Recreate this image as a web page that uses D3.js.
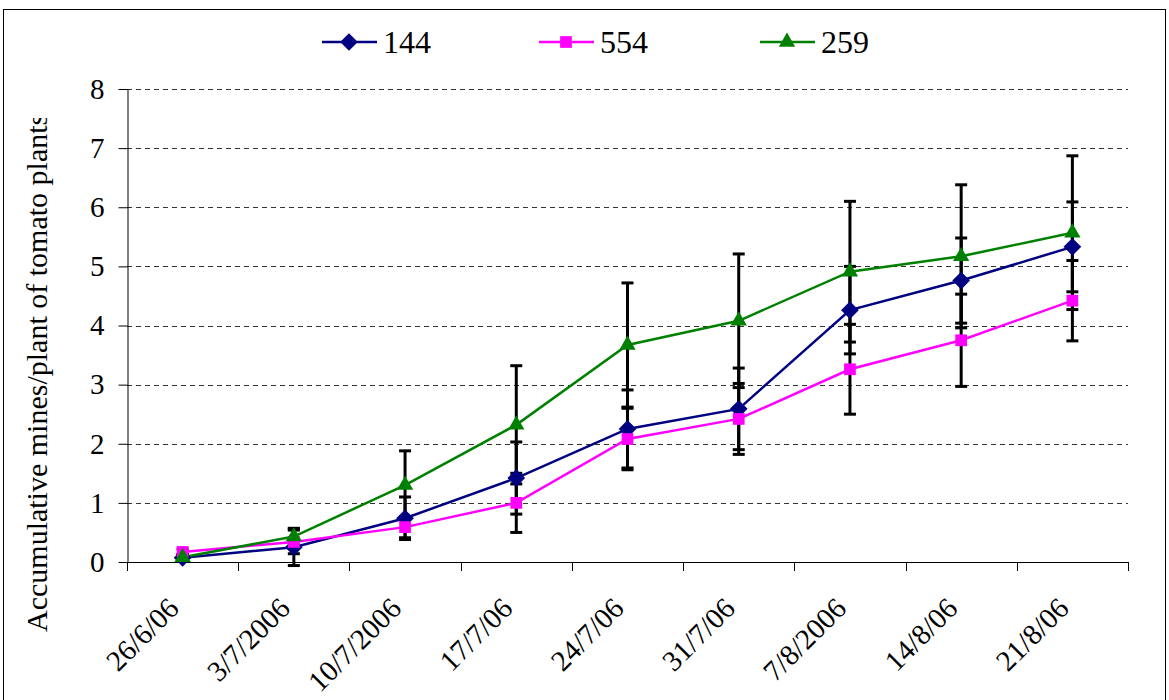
<!DOCTYPE html>
<html>
<head>
<meta charset="utf-8">
<script src="https://cdn.jsdelivr.net/npm/d3@7"></script>
<style>
  body { margin: 0; background: #fff; }
  svg text { font-family: "Liberation Serif", "Times New Roman", serif; }
</style>
</head>
<body>
<div id="chart"></div>
<script>
// sampling dates (category axis)
const dates = ["26/6/06", "3/7/2006", "10/7/2006", "17/7/06", "24/7/06", "31/7/06", "7/8/2006", "14/8/06", "21/8/06"];

// mean accumulative mines per plant
const mean144 = [0.07, 0.25, 0.74, 1.42, 2.25, 2.59, 4.26, 4.76, 5.33];
const mean554 = [0.17, 0.34, 0.59, 1.00, 2.08, 2.42, 3.26, 3.75, 4.42];
const mean259 = [0.08, 0.43, 1.30, 2.32, 3.67, 4.08, 4.91, 5.17, 5.57];

// error (+/-)
const err144 = [0.05, 0.31, 0.36, 0.61, 0.66, 0.69, 0.74, 0.72, 0.76];
const err554 = [0.05, 0.20, 0.18, 0.50, 0.52, 0.60, 0.76, 0.78, 0.68];
const err259 = [0.05, 0.14, 0.58, 1.00, 1.05, 1.13, 1.19, 1.21, 1.30];

const yTicks = [0, 1, 2, 3, 4, 5, 6, 7, 8];
const seriesNames = ["144", "554", "259"];

const FONT = '"Liberation Serif", "Times New Roman", serif';

class LineChart {
  constructor(_config) {
    this.config = {
      parentElement: _config.parentElement,
      containerWidth: 1169,
      containerHeight: 700,
      left: 127, right: 1128, top: 89, bottom: 562
    };
    this.series = [
      { name: seriesNames[0], values: mean144, errors: err144, color: "#000080", symbol: d3.symbolDiamond2, size: 200 },
      { name: seriesNames[1], values: mean554, errors: err554, color: "#ff00ff", symbol: d3.symbolSquare2, size: 175 },
      { name: seriesNames[2], values: mean259, errors: err259, color: "#008000", symbol: d3.symbolTriangle2, size: 190 }
    ];
    this.initVis();
  }

  initVis() {
    let vis = this;
    const c = vis.config;

    vis.svg = d3.select(c.parentElement).append("svg")
      .attr("width", c.containerWidth)
      .attr("height", c.containerHeight)
      .style("display", "block");

    // outer chart border
    vis.svg.append("rect")
      .attr("x", 3.5).attr("y", 9.5)
      .attr("width", 1162).attr("height", 720)
      .attr("fill", "none").attr("stroke", "#000").attr("stroke-width", 1);

    vis.x = d3.scaleBand().domain(dates).range([c.left, c.right]).padding(0);
    vis.y = d3.scaleLinear().domain([0, 8]).range([c.bottom, c.top]);

    vis.drawAxes();
    vis.drawSeries();
    vis.drawLegend();
  }

  drawAxes() {
    let vis = this;
    const c = vis.config;

    // dashed gridlines
    vis.svg.append("g")
      .selectAll("line")
      .data(yTicks.filter(d => d > 0))
      .join("line")
      .attr("x1", c.left).attr("x2", c.right)
      .attr("y1", d => Math.round(vis.y(d)) + 0.5)
      .attr("y2", d => Math.round(vis.y(d)) + 0.5)
      .attr("stroke", "#333")
      .attr("stroke-width", 1)
      .attr("stroke-dasharray", "5,4");

    const yAxis = vis.svg.append("g")
      .attr("transform", `translate(${c.left + 0.5},0)`)
      .call(d3.axisLeft(vis.y).tickValues(yTicks).tickSize(9).tickPadding(14).tickSizeOuter(0));
    yAxis.attr("font-family", null);
    yAxis.select(".domain").attr("stroke", "#000");
    yAxis.selectAll(".tick line").attr("stroke", "#000");
    yAxis.selectAll("text")
      .style("font-family", FONT)
      .attr("font-size", 29)
      .attr("fill", "#000");

    // category axis with ticks at boundaries
    const xAxisG = vis.svg.append("g");
    xAxisG.append("line")
      .attr("x1", c.left).attr("x2", c.right)
      .attr("y1", c.bottom + 0.5).attr("y2", c.bottom + 0.5)
      .attr("stroke", "#000");
    const bounds = dates.map(d => vis.x(d)).concat([c.right]);
    xAxisG.selectAll(".xtick")
      .data(bounds)
      .join("line")
      .attr("class", "xtick")
      .attr("x1", d => Math.round(d) + 0.5).attr("x2", d => Math.round(d) + 0.5)
      .attr("y1", c.bottom).attr("y2", c.bottom + 9)
      .attr("stroke", "#000");

    xAxisG.selectAll(".xlabel")
      .data(dates)
      .join("text")
      .attr("class", "xlabel")
      .attr("transform", d => `translate(${vis.x(d) + vis.x.bandwidth() / 2 - 2},${c.bottom + 48}) rotate(-45)`)
      .attr("text-anchor", "end")
      .style("font-family", FONT)
      .attr("font-size", 29)
      .text(d => d);

    // y axis title, clipped like the original
    vis.svg.append("clipPath").attr("id", "ytitle-clip")
      .append("rect").attr("x", 0).attr("y", 118).attr("width", 80).attr("height", 600);
    vis.svg.append("g").attr("clip-path", "url(#ytitle-clip)")
      .append("text")
      .attr("transform", "translate(47,632) rotate(-90)")
      .attr("text-anchor", "start")
      .style("font-family", FONT)
      .attr("font-size", 30)
      .text("Accumulative mines/plant of tomato plants");
  }

  drawSeries() {
    let vis = this;
    const cx = d => vis.x(d) + vis.x.bandwidth() / 2;

    // error bars first
    vis.series.forEach(s => {
      const g = vis.svg.append("g").attr("class", "errbars");
      dates.forEach((d, i) => {
        const x = cx(d);
        const yTop = vis.y(s.values[i] + s.errors[i]);
        const yBot = vis.y(s.values[i] - s.errors[i]);
        g.append("line").attr("x1", x).attr("x2", x).attr("y1", yTop).attr("y2", yBot)
          .attr("stroke", "#000").attr("stroke-width", 3);
        [yTop, yBot].forEach(yy => {
          g.append("line").attr("x1", x - 6).attr("x2", x + 6).attr("y1", yy).attr("y2", yy)
            .attr("stroke", "#000").attr("stroke-width", 3);
        });
      });
    });

    const line = d3.line().x((v, i) => cx(dates[i])).y(v => vis.y(v));

    vis.series.forEach(s => {
      vis.svg.append("path")
        .datum(s.values)
        .attr("d", line)
        .attr("fill", "none")
        .attr("stroke", s.color)
        .attr("stroke-width", 2.5);
    });

    vis.series.forEach(s => {
      vis.svg.append("g")
        .selectAll("path")
        .data(s.values)
        .join("path")
        .attr("transform", (v, i) => `translate(${cx(dates[i])},${vis.y(v)})`)
        .attr("d", d3.symbol().type(s.symbol).size(s.size))
        .attr("fill", s.color);
    });
  }

  drawLegend() {
    let vis = this;
    const xs = [349, 566, 787];
    const ly = 42;

    const items = vis.svg.append("g").selectAll("g")
      .data(vis.series)
      .join("g")
      .attr("transform", (d, i) => `translate(${xs[i]},${ly})`);

    items.append("line")
      .attr("x1", -27).attr("x2", 28)
      .attr("stroke", d => d.color).attr("stroke-width", 2.5);
    items.append("path")
      .attr("d", d => d3.symbol().type(d.symbol).size(d.size)())
      .attr("fill", d => d.color);
    items.append("text")
      .attr("x", 34).attr("y", 11)
      .style("font-family", FONT)
      .attr("font-size", 32)
      .text(d => d.name);
  }
}

new LineChart({ parentElement: "#chart" });
</script>
</body>
</html>
